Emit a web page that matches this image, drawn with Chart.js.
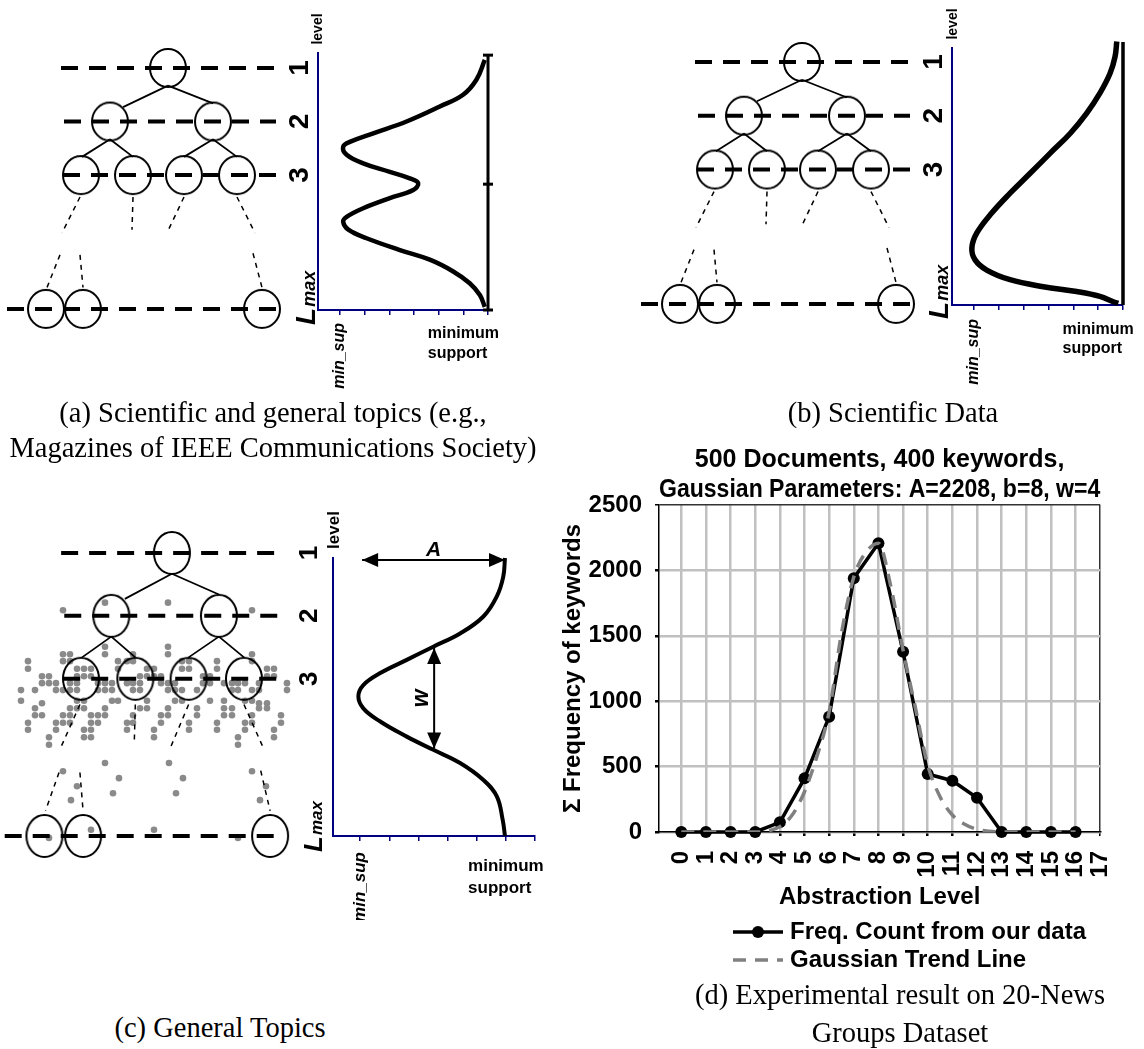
<!DOCTYPE html>
<html>
<head>
<meta charset="utf-8">
<title>Abstraction levels</title>
<script src="https://cdn.jsdelivr.net/npm/chart.js@4.4.1/dist/chart.umd.min.js"></script>
<style>
  html, body { margin: 0; padding: 0; background: #fff; }
  body { position: relative; width: 1144px; height: 1049px; overflow: hidden; }
  canvas { position: absolute; }
  .cap { position: absolute; width: 640px; font-family: "Liberation Serif", "Times New Roman", serif; font-size: 28.5px; line-height: 32px; white-space: nowrap; text-align: center; color: #000; }
</style>
</head>
<body>
<canvas id="treeA" width="300" height="400" style="left:0px;top:0px"></canvas>
<canvas id="curveA" width="250" height="400" style="left:270px;top:0px"></canvas>
<canvas id="treeB" width="300" height="400" style="left:620px;top:0px"></canvas>
<canvas id="curveB" width="254" height="400" style="left:890px;top:0px"></canvas>
<canvas id="treeC" width="300" height="440" style="left:0px;top:480px"></canvas>
<canvas id="curveC" width="285" height="440" style="left:275px;top:480px"></canvas>
<canvas id="chartD" width="604" height="540" style="left:540px;top:430px"></canvas>

<div class="cap" style="left:-47px;top:397px">(a) Scientific and general topics (e.g.,</div>
<div class="cap" style="left:-47px;top:432px">Magazines of IEEE Communications Society)</div>
<div class="cap" style="left:573px;top:397px">(b) Scientific Data</div>
<div class="cap" style="left:-100px;top:1012px">(c) General Topics</div>
<div class="cap" style="left:580px;top:979px">(d) Experimental result on 20-News</div>
<div class="cap" style="left:580px;top:1017px">Groups Dataset</div>

<script>
Chart.defaults.font.family = '"Liberation Sans", Arial, sans-serif';
Chart.defaults.color = '#000';

// Niveles del árbol: 1, 2, 3 y Lmax
const treeLevels = [1, 2, 3, 5.5];
const levelNames = ['1', '2', '3'];

// Posición horizontal de los nodos en cada nivel (unidades del diagrama)
const nodesL1 = [168];
const nodesL2 = [110, 213];
const nodesL3 = [81, 133, 184, 237];
const nodesLmax = [46, 83, 262];

// Aristas: [x1, nivel1, x2, nivel2]
const treeEdges = [[168, 1.33, 123, 1.73], [168, 1.33, 213, 1.66], [110, 2.33, 82, 2.66], [110, 2.33, 133, 2.66], [213, 2.33, 184, 2.66], [213, 2.33, 237, 2.66]];
const dottedEdges = [[80, 3.41, 62, 4.08], [133, 3.41, 132, 4.02], [184, 3.41, 167, 4.08], [237, 3.41, 255, 4.08], [60, 4.49, 47, 5.1], [80, 4.49, 83, 5.1], [253, 4.46, 262, 5.1]];

// Líneas discontinuas de cada nivel: [inicio, fin]
const guidesAB = [[61, 276], [64, 276], [63, 276], [7, 276]];
const guidesC = [[62, 269], [65, 269], [64, 269], [8, 269]];

// Eje de soporte (min_sup = 0, minimum support = 5 o 6)
const supportTicks = [0, 1, 2, 3, 4, 5, 6];

// Curva (a): soporte y nivel
const curveASupport = [5.87, 5.53, 4.99, 4.05, 2.70, 1.35, 0.40, 0.13, 0.27, 0.94, 2.02, 2.83, 3.17, 2.97, 2.02, 0.94, 0.27, 0.13, 0.34, 1.08, 2.43, 3.64, 4.59, 5.26, 5.67, 5.87];
const curveALevel = [0.85, 1.22, 1.50, 1.72, 2.00, 2.22, 2.38, 2.47, 2.62, 2.78, 2.94, 3.06, 3.15, 3.28, 3.43, 3.62, 3.78, 3.87, 4.02, 4.18, 4.40, 4.58, 4.80, 5.02, 5.24, 5.46];
const lineALevel = [0.76, 3.17, 5.52];

// Curva (b)
const curveBSupport = [5.75, 5.68, 5.48, 5.07, 4.54, 3.87, 3.06, 2.26, 1.45, 0.71, 0.11, -0.09, 0.04, 0.51, 1.45, 2.79, 4.13, 5.07, 5.61, 5.81];
const curveBLevel = [0.62, 0.90, 1.21, 1.58, 1.95, 2.33, 2.70, 3.07, 3.44, 3.81, 4.18, 4.46, 4.68, 4.87, 5.05, 5.18, 5.27, 5.36, 5.46, 5.49];
const lineBLevel = [0.63, 5.52];

// Curva (c)
const curveCSupport = [4.97, 4.91, 4.69, 4.23, 3.43, 2.51, 1.60, 0.69, 0.11, -0.06, 0.11, 0.69, 1.60, 2.51, 3.43, 4.23, 4.69, 4.89, 4.97];
const curveCLevel = [1.08, 1.38, 1.69, 2.01, 2.28, 2.49, 2.70, 2.91, 3.10, 3.28, 3.47, 3.68, 3.92, 4.13, 4.34, 4.61, 4.87, 5.24, 5.5];
const arrowA = [[0.07, 1.11], [4.97, 1.11]];
const arrowW = [[2.54, 2.51], [2.54, 4.11]];

// Puntos grises de (c): un nivel por fila y sus posiciones horizontales
const dotRowLevel = [1.79, 1.91, 2.49, 2.61, 2.72, 2.84, 2.96, 3.07, 3.18, 3.35, 3.39, 3.47, 3.58, 3.70, 3.81, 3.93, 4.05, 4.34, 4.47, 4.58, 4.71, 4.82, 4.93, 5.40, 5.53];
const dotRowX = [
  [105, 168],
  [63, 252],
  [105, 168],
  [63, 70, 105, 133, 168, 252],
  [28, 63, 70, 118, 127, 133, 182, 189, 217, 252],
  [28, 77, 84, 91, 118, 147, 154, 182, 189, 217, 267, 274],
  [42, 49, 77, 84, 91, 140, 147, 154, 161, 203, 210, 267, 274],
  [42, 49, 56, 70, 77, 98, 105, 112, 127, 133, 140, 161, 168, 175, 203, 210, 224, 232, 238, 245, 259, 287],
  [21, 35, 56, 63, 70, 77, 98, 105, 112, 133, 140, 168, 175, 182, 197, 232, 238, 252, 259, 287],
  [21, 77, 84, 112, 118, 147, 175, 182, 210, 224, 245, 252],
  [42, 259, 267],
  [35, 70, 77, 84, 105, 140, 147, 168, 197, 224, 232, 259, 267],
  [35, 42, 63, 70, 91, 98, 105, 133, 161, 168, 197, 224, 232, 252, 281],
  [28, 56, 63, 70, 91, 98, 127, 133, 161, 189, 217, 245, 252, 281],
  [28, 56, 84, 91, 127, 154, 189, 217, 245, 274],
  [49, 84, 91, 154, 238, 274],
  [49, 238],
  [105, 169],
  [63, 252],
  [119, 183],
  [77, 266],
  [113, 176],
  [71, 260],
  [91, 154],
  [49, 238]
];

// (d) 20-News Groups
const abstractionLevel = [0, 1, 2, 3, 4, 5, 6, 7, 8, 9, 10, 11, 12, 13, 14, 15, 16];
const freqCount = [0, 0, 0, 0, 74, 410, 882, 1940, 2208, 1378, 443, 392, 262, 0, 0, 0, 0];
const trendLevel = [0, 0.5, 1, 1.5, 2, 2.5, 3, 3.5, 4, 4.5, 5, 5.5, 6, 6.5, 7, 7.5, 8, 8.5, 9, 9.5, 10, 10.5, 11, 11.5, 12, 12.5, 13, 13.5, 14, 14.5, 15, 15.5, 16];
const trendValue = [0, 0, 0, 0, 0, 0, 0, 8, 41, 130, 308, 576, 920, 1520, 1950, 2140, 2208, 1880, 1390, 950, 512, 270, 130, 59, 20, 5, 0, 0, 0, 0, 0, 0, 0];
const xTickValues = [0, 1, 2, 3, 4, 5, 6, 7, 8, 9, 10, 11, 12, 13, 14, 15, 16, 17];
const yTickValues = [0, 500, 1000, 1500, 2000, 2500];

const SANS = '"Liberation Sans", Arial, sans-serif';
const pts = arr => arr.map(p => ({x: p[0], y: p[1]}));

function ellipseStyle(rx, ry) {
  const c = document.createElement('canvas');
  c.width = rx * 2 + 4;
  c.height = ry * 2 + 4;
  const g = c.getContext('2d');
  g.lineWidth = 2;
  g.strokeStyle = '#000';
  g.beginPath();
  g.ellipse(c.width / 2, c.height / 2, rx, ry, 0, 0, Math.PI * 2);
  g.stroke();
  return c;
}

function rotText(ctx, text, x, y, font, align, baseline) {
  ctx.save();
  ctx.translate(x, y);
  ctx.rotate(-Math.PI / 2);
  ctx.font = font;
  ctx.textAlign = align;
  ctx.textBaseline = baseline;
  ctx.fillText(text, 0, 0);
  ctx.restore();
}

const baseOptions = {
  responsive: false,
  animation: false,
  events: [],
  devicePixelRatio: 1,
  plugins: { legend: { display: false }, tooltip: { enabled: false }, title: { display: false } }
};

// Árbol de niveles
function drawTree(id, o) {
  const datasets = [];
  o.guides.forEach((g, i) => {
    datasets.push({ data: pts([[g[0], treeLevels[i]], [g[1], treeLevels[i]]]), showLine: true, borderColor: '#000', borderWidth: 4, borderDash: [17, 11], pointRadius: 0, clip: false, order: 1 });
  });
  treeEdges.forEach(e => {
    datasets.push({ data: pts([[e[0], e[1]], [e[2], e[3]]]), showLine: true, borderColor: '#000', borderWidth: 1.8, pointRadius: 0, clip: false, order: 1 });
  });
  dottedEdges.forEach(e => {
    datasets.push({ data: pts([[e[0], e[1]], [e[2], e[3]]]), showLine: true, borderColor: '#000', borderWidth: 1.5, borderDash: [5, 5], pointRadius: 0, clip: false, order: 1 });
  });
  const nodes = [];
  [nodesL1, nodesL2, nodesL3, nodesLmax].forEach((row, i) => row.forEach(x => nodes.push({x: x, y: treeLevels[i]})));
  datasets.push({ data: nodes, showLine: false, pointStyle: o.node, pointRadius: 20, clip: false, order: 0 });

  const scales = {
    x: { type: 'linear', display: false, min: o.xMin, max: o.xMax },
    y: { type: 'linear', display: false, reverse: true, min: o.yMin, max: o.yMax }
  };
  if (o.dots) {
    const dots = [];
    dotRowLevel.forEach((lv, i) => dotRowX[i].forEach(x => dots.push({x: x, y: lv})));
    datasets.push({ data: dots, xAxisID: 'xd', showLine: false, pointRadius: 3.3, backgroundColor: '#8a8a8a', pointBackgroundColor: '#8a8a8a', pointBorderWidth: 0, clip: false, order: 2 });
    scales.xd = { type: 'linear', display: false, min: 0, max: 300 };
  }
  new Chart(document.getElementById(id), {
    type: 'scatter',
    data: { datasets: datasets },
    options: Object.assign({}, baseOptions, {
      layout: { autoPadding: false, padding: { top: o.padTop, bottom: o.padBottom, left: 0, right: 0 } },
      scales: scales
    })
  });
}

// Textos del panel de soporte
function panelText(t) {
  return {
    id: 'panelText',
    afterDraw(chart) {
      const ctx = chart.ctx, xs = chart.scales.x, ys = chart.scales.y;
      const ax = ys.right;
      ctx.save();
      ctx.fillStyle = '#000';
      rotText(ctx, 'level', ax + t.levelDx, ys.top - t.levelDy, 'bold ' + t.levelFont + 'px ' + SANS, 'center', 'alphabetic');
      levelNames.forEach((n, i) => {
        rotText(ctx, n, ax - t.digitDx, ys.getPixelForValue(treeLevels[i]), 'bold ' + t.digitFont + 'px ' + SANS, 'center', 'alphabetic');
      });
      const y0 = ys.getPixelForValue(treeLevels[3]) + t.lmaxDy;
      ctx.font = 'italic bold ' + t.digitFont + 'px ' + SANS;
      const wL = ctx.measureText('L').width;
      rotText(ctx, 'L', ax - t.lmaxDx, y0, ctx.font, 'left', 'alphabetic');
      rotText(ctx, 'max', ax - t.lmaxDx, y0 - wL - 1, 'italic bold ' + Math.round(t.digitFont * 0.66) + 'px ' + SANS, 'left', 'alphabetic');

      rotText(ctx, 'min_sup', xs.getPixelForValue(0), ys.bottom + t.minSupDy, 'italic bold ' + t.minFont + 'px ' + SANS, 'right', 'middle');
      ctx.font = 'bold ' + t.minFont + 'px ' + SANS;
      ctx.textAlign = 'left';
      ctx.textBaseline = 'middle';
      const cx = xs.getPixelForValue(5);
      const wm = ctx.measureText('minimum').width;
      ctx.fillText('minimum', cx - wm / 2, ys.bottom + t.minDy1);
      ctx.fillText('support', cx - wm / 2, ys.bottom + t.minDy2);

      if (t.arrows) {
        ctx.font = 'italic bold 21px ' + SANS;
        ctx.textAlign = 'center';
        ctx.textBaseline = 'alphabetic';
        const aMid = (arrowA[0][0] + arrowA[1][0]) / 2;
        ctx.fillText('A', xs.getPixelForValue(aMid), ys.getPixelForValue(arrowA[0][1]) - 4);
        const wMid = (arrowW[0][1] + arrowW[1][1]) / 2;
        rotText(ctx, 'w', xs.getPixelForValue(arrowW[0][0]) - 6, ys.getPixelForValue(wMid), 'italic bold 23px ' + SANS, 'center', 'alphabetic');
      }
      ctx.restore();
    }
  };
}

// Puntas de flecha en los datasets marcados con arrow
const arrowHeads = {
  id: 'arrowHeads',
  afterDatasetsDraw(chart) {
    const ctx = chart.ctx;
    chart.data.datasets.forEach((ds, i) => {
      if (!ds.arrow) return;
      const p = chart.getDatasetMeta(i).data;
      const a = p[0], b = p[p.length - 1];
      [[a, b], [b, a]].forEach(([tip, from]) => {
        const dx = tip.x - from.x, dy = tip.y - from.y;
        const len = Math.hypot(dx, dy);
        const ux = dx / len, uy = dy / len;
        const bx = tip.x - ux * 16, by = tip.y - uy * 16;
        ctx.save();
        ctx.fillStyle = '#000';
        ctx.beginPath();
        ctx.moveTo(tip.x, tip.y);
        ctx.lineTo(bx - uy * 7, by + ux * 7);
        ctx.lineTo(bx + uy * 7, by - ux * 7);
        ctx.closePath();
        ctx.fill();
        ctx.restore();
      });
    });
  }
};

// Curva de soporte por nivel
function drawCurve(id, o) {
  const datasets = [{ data: o.support.map((s, i) => ({x: s, y: o.level[i]})), showLine: true, borderColor: '#000', borderWidth: o.width, tension: 0.4, pointRadius: 0, clip: false }];
  (o.extra || []).forEach(d => datasets.push(d));
  new Chart(document.getElementById(id), {
    type: 'scatter',
    data: { datasets: datasets },
    options: Object.assign({}, baseOptions, {
      layout: { autoPadding: false, padding: { left: o.padLeft, right: o.padRight, top: o.padTop, bottom: o.padBottom } },
      scales: {
        x: {
          type: 'linear', min: o.xMin, max: 6,
          afterBuildTicks: s => { s.ticks = supportTicks.map(v => ({value: v})); },
          afterFit: s => { s.height = 0; },
          ticks: { display: false },
          grid: { drawOnChartArea: false, drawTicks: true, tickLength: 5, color: '#000080', lineWidth: 1.5 },
          border: { display: true, color: '#000080', width: 2 }
        },
        y: {
          type: 'linear', reverse: true, min: o.yMin, max: o.yMax,
          afterFit: s => { s.width = 0; },
          ticks: { display: false },
          grid: { display: false },
          border: { display: true, color: '#000080', width: 2 }
        }
      }
    }),
    plugins: [panelText(o.text), arrowHeads]
  });
}

const circleNode = ellipseStyle(18, 19);
const ovalNode = ellipseStyle(18, 21);

// (a)
drawTree('treeA', { guides: guidesAB, node: circleNode, xMin: 0, xMax: 300, yMin: 0.72, yMax: 5.52, padTop: 53, padBottom: 90 });
drawCurve('curveA', {
  support: curveASupport, level: curveALevel, width: 4.5,
  xMin: -0.89, yMin: 0.72, yMax: 5.52, padLeft: 48, padRight: 32, padTop: 53, padBottom: 90,
  extra: [{ data: lineALevel.map(l => ({x: 6, y: l})), showLine: true, borderColor: '#000', borderWidth: 3, pointStyle: 'line', pointRadius: 5, pointBorderWidth: 3, pointBorderColor: '#000', clip: false }],
  text: { levelDx: 4, levelDy: 24, levelFont: 14, digitDx: 10, digitFont: 28, lmaxDx: 3, lmaxDy: 16, minSupDy: 13, minFont: 16, minDy1: 24, minDy2: 44 }
});

// (b)
drawTree('treeB', { guides: guidesAB, node: circleNode, xMin: -14, xMax: 286, yMin: 0.74, yMax: 5.52, padTop: 48, padBottom: 95 });
drawCurve('curveB', {
  support: curveBSupport, level: curveBLevel, width: 5.5,
  xMin: -0.89, yMin: 0.74, yMax: 5.52, padLeft: 62, padRight: 21, padTop: 48, padBottom: 95,
  extra: [{ data: lineBLevel.map(l => ({x: 6, y: l})), showLine: true, borderColor: '#000', borderWidth: 3.5, pointRadius: 0, clip: false }],
  text: { levelDx: 5, levelDy: 24, levelFont: 14, digitDx: 10, digitFont: 28, lmaxDx: 4, lmaxDy: 15, minSupDy: 14, minFont: 16, minDy1: 25, minDy2: 44 }
});

// (c)
drawTree('treeC', { guides: guidesC, node: ovalNode, dots: true, xMin: 3.5, xMax: 290.6, yMin: 1.08, yMax: 5.5, padTop: 78, padBottom: 84 });
drawCurve('curveC', {
  support: curveCSupport, level: curveCLevel, width: 4,
  xMin: -0.93, yMin: 1.08, yMax: 5.5, padLeft: 58, padRight: 25, padTop: 78, padBottom: 84,
  extra: [
    { data: pts(arrowA), arrow: true, showLine: true, borderColor: '#000', borderWidth: 2, pointRadius: 0, clip: false },
    { data: pts(arrowW), arrow: true, showLine: true, borderColor: '#000', borderWidth: 2, pointRadius: 0, clip: false }
  ],
  text: { arrows: true, levelDx: 6, levelDy: 28, levelFont: 17, digitDx: 16, digitFont: 26, lmaxDx: 11, lmaxDy: 16, minSupDy: 16, minFont: 17, minDy1: 30, minDy2: 52 }
});

// (d) leyenda en dos filas
const freqLegend = {
  id: 'freqLegend',
  afterDraw(chart) {
    const ctx = chart.ctx, area = chart.chartArea;
    const rows = [area.bottom + 100, area.bottom + 128];
    chart.data.datasets.slice().reverse().forEach((ds, i) => {
      const y = rows[i];
      const x1 = area.left + 74, x2 = area.left + 124;
      ctx.save();
      ctx.strokeStyle = ds.borderColor;
      ctx.lineWidth = ds.borderWidth;
      ctx.setLineDash(ds.borderDash || []);
      ctx.beginPath();
      ctx.moveTo(x1, y);
      ctx.lineTo(x2, y);
      ctx.stroke();
      if (ds.pointRadius) {
        ctx.fillStyle = ds.pointBackgroundColor;
        ctx.beginPath();
        ctx.arc((x1 + x2) / 2, y, ds.pointRadius, 0, Math.PI * 2);
        ctx.fill();
      }
      ctx.fillStyle = '#000';
      ctx.font = 'bold 24px ' + SANS;
      ctx.textBaseline = 'middle';
      ctx.fillText(ds.label, area.left + 131, y);
      ctx.restore();
    });
  }
};

const boldFont = { family: SANS, size: 24, weight: 'bold' };
new Chart(document.getElementById('chartD'), {
  type: 'scatter',
  data: {
    datasets: [
      { label: 'Gaussian Trend Line', data: trendLevel.map((x, i) => ({x: x, y: trendValue[i]})), showLine: true, borderColor: '#808080', borderWidth: 3.5, borderDash: [13, 9], pointRadius: 0, cubicInterpolationMode: 'monotone', order: 0 },
      { label: 'Freq. Count from our data', data: abstractionLevel.map((x, i) => ({x: x, y: freqCount[i]})), showLine: true, borderColor: '#000', backgroundColor: '#000', borderWidth: 3.5, pointRadius: 6, pointBackgroundColor: '#000', pointBorderWidth: 0, clip: false, order: 1 }
    ]
  },
  options: Object.assign({}, baseOptions, {
    layout: { autoPadding: false, padding: { left: 0, right: 17, top: 0, bottom: 0 } },
    plugins: {
      legend: { display: false },
      tooltip: { enabled: false },
      title: { display: true, fullSize: false, text: ['500 Documents, 400 keywords,', 'Gaussian Parameters: A=2208, b=8, w=4'], font: { family: SANS, size: 25, weight: 'bold' }, color: '#000', padding: { top: 15, bottom: 0 } }
    },
    scales: {
      x: {
        type: 'linear', min: -0.905, max: 17,
        afterBuildTicks: s => { s.ticks = xTickValues.map(v => ({value: v})); },
        afterFit: s => { s.height = 138; },
        ticks: { autoSkip: false, minRotation: 90, maxRotation: 90, padding: 15, font: boldFont, color: '#000', callback: v => String(v) },
        grid: { color: c => (c.tick && c.tick.value === 17) ? '#333' : '#c0c0c0', lineWidth: c => (c.tick && c.tick.value === 17) ? 1.5 : 2.5, drawTicks: true, tickLength: 4, tickColor: '#000' },
        border: { color: '#000', width: 1.5 },
        title: { display: true, text: 'Abstraction Level', font: boldFont, color: '#000', padding: { top: 0, bottom: 58.6 } }
      },
      y: {
        type: 'linear', min: 0, max: 2500,
        afterBuildTicks: s => { s.ticks = yTickValues.map(v => ({value: v})); },
        afterFit: s => { s.width = 119; },
        ticks: { padding: 13, font: boldFont, color: '#000', callback: v => String(v) },
        grid: { color: c => (c.tick && c.tick.value === 2500) ? '#333' : '#c0c0c0', lineWidth: c => (c.tick && c.tick.value === 2500) ? 1.5 : 2.5, drawTicks: true, tickLength: 4, tickColor: '#000' },
        border: { color: '#000', width: 1.5 },
        title: { display: true, text: 'Σ Frequency of keywords', font: boldFont, color: '#000', padding: { top: 18.6, bottom: 0 } }
      }
    }
  }),
  plugins: [freqLegend]
});
</script>
</body>
</html>
